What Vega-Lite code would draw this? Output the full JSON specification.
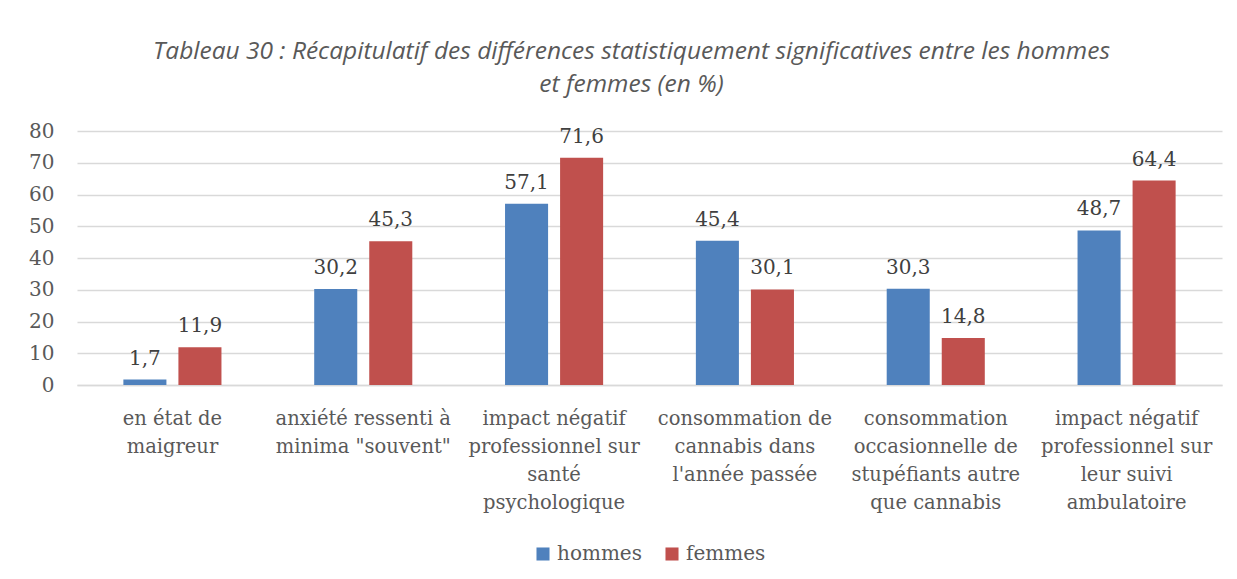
{
  "$schema": "https://vega.github.io/schema/vega-lite/v6.json",
  "autosize": {"type": "none"},
  "padding": {"left": 77, "top": 131, "right": 15, "bottom": 194},
  "width": 1145,
  "height": 254,
  "background": "white",
  "title": {
    "text": ["Tableau 30 : Récapitulatif des différences statistiquement significatives entre les hommes", "et femmes (en %)"],
    "font": "Open Sans",
    "fontStyle": "italic",
    "fontWeight": "normal",
    "fontSize": 24.5,
    "color": "#595959",
    "lineHeight": 33,
    "anchor": "middle",
    "dx": -18,
    "offset": 24
  },
  "data": {
    "values": [
      {"cat": "en état de|maigreur", "sexe": "hommes", "val": 1.7},
      {"cat": "en état de|maigreur", "sexe": "femmes", "val": 11.9},
      {"cat": "anxiété ressenti à|minima \"souvent\"", "sexe": "hommes", "val": 30.2},
      {"cat": "anxiété ressenti à|minima \"souvent\"", "sexe": "femmes", "val": 45.3},
      {"cat": "impact négatif|professionnel sur|santé|psychologique", "sexe": "hommes", "val": 57.1},
      {"cat": "impact négatif|professionnel sur|santé|psychologique", "sexe": "femmes", "val": 71.6},
      {"cat": "consommation de|cannabis dans|l'année passée", "sexe": "hommes", "val": 45.4},
      {"cat": "consommation de|cannabis dans|l'année passée", "sexe": "femmes", "val": 30.1},
      {"cat": "consommation|occasionnelle de|stupéfiants autre|que cannabis", "sexe": "hommes", "val": 30.3},
      {"cat": "consommation|occasionnelle de|stupéfiants autre|que cannabis", "sexe": "femmes", "val": 14.8},
      {"cat": "impact négatif|professionnel sur|leur suivi|ambulatoire", "sexe": "hommes", "val": 48.7},
      {"cat": "impact négatif|professionnel sur|leur suivi|ambulatoire", "sexe": "femmes", "val": 64.4}
    ]
  },
  "encoding": {
    "x": {
      "field": "cat",
      "type": "nominal",
      "sort": null,
      "scale": {"paddingInner": 0.486, "paddingOuter": 0.243},
      "axis": {
        "title": null,
        "labelAngle": 0,
        "labelExpr": "split(datum.label, '|')",
        "labelFont": "DejaVu Serif",
        "labelFontSize": 19.5,
        "labelColor": "#595959",
        "labelLineHeight": 28,
        "labelPadding": 24,
        "labelBaseline": "top",
        "labelLimit": 300,
        "ticks": false,
        "domain": true,
        "domainColor": "#D9D9D9",
        "domainWidth": 1.5,
        "grid": false
      }
    },
    "xOffset": {
      "field": "sexe",
      "type": "nominal",
      "sort": ["hommes", "femmes"],
      "scale": {"paddingInner": 0.218, "paddingOuter": 0}
    },
    "y": {
      "field": "val",
      "type": "quantitative",
      "scale": {"domain": [0, 80]},
      "axis": {
        "title": null,
        "values": [0, 10, 20, 30, 40, 50, 60, 70, 80],
        "labelFont": "DejaVu Serif",
        "labelFontSize": 20,
        "labelColor": "#595959",
        "labelPadding": 23,
        "ticks": false,
        "domain": false,
        "grid": true,
        "gridColor": "#D9D9D9",
        "gridWidth": 1.5
      }
    }
  },
  "layer": [
    {
      "mark": {"type": "bar"},
      "encoding": {
        "color": {
          "field": "sexe",
          "type": "nominal",
          "sort": ["hommes", "femmes"],
          "scale": {"domain": ["hommes", "femmes"], "range": ["#4F81BD", "#C0504D"]},
          "legend": {
            "title": null,
            "orient": "bottom",
            "direction": "horizontal",
            "symbolType": "square",
            "symbolSize": 170,
            "symbolStrokeWidth": 0,
            "labelFont": "DejaVu Serif",
            "labelFontSize": 20,
            "labelColor": "#595959",
            "columnPadding": 20,
            "labelOffset": 4,
            "offset": 32
          }
        }
      }
    },
    {
      "mark": {"type": "text", "baseline": "bottom", "dy": -11, "font": "DejaVu Serif", "fontSize": 20, "color": "#404040"},
      "encoding": {
        "text": {"field": "val", "type": "quantitative", "format": ".1f", "formatType": "number"}
      }
    }
  ],
  "config": {
    "view": {"stroke": null},
    "legend": {"layout": {"bottom": {"anchor": "middle"}}},
    "locale": {"number": {"decimal": ",", "thousands": " ", "grouping": [3], "currency": ["", " €"]}}
  }
}
